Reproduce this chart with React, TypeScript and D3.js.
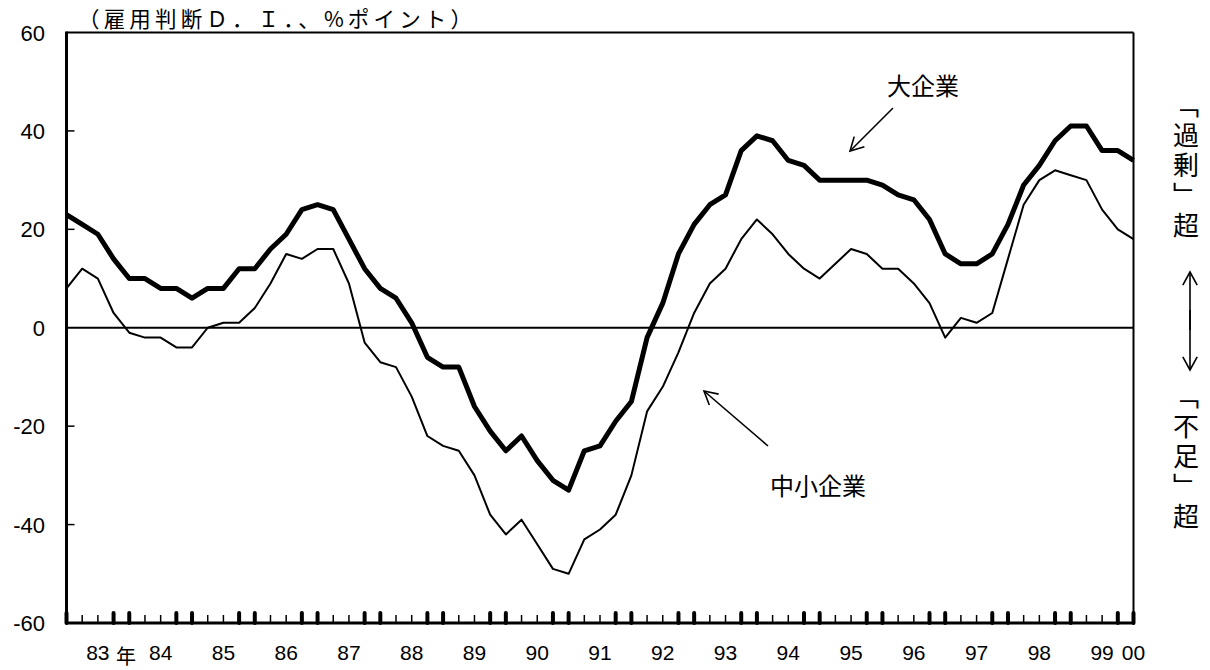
import React, { useRef, useEffect } from "react";
import * as d3 from "d3";

// quarterly, 1983 Q1 .. 2000 Q1
const years = ["83", "84", "85", "86", "87", "88", "89", "90", "91", "92", "93", "94", "95", "96", "97", "98", "99"];
const quarters = [
  ...years.flatMap((y) => ["Q1", "Q2", "Q3", "Q4"].map((q) => y + q)),
  "00Q1",
];

const largeFirms = [
  23, 21, 19, 14, 10, 10, 8, 8, 6, 8, 8, 12, 12, 16, 19, 24, 25, 24, 18, 12,
  8, 6, 1, -6, -8, -8, -16, -21, -25, -22, -27, -31, -33, -25, -24, -19, -15, -2, 5, 15,
  21, 25, 27, 36, 39, 38, 34, 33, 30, 30, 30, 30, 29, 27, 26, 22, 15, 13, 13, 15,
  21, 29, 33, 38, 41, 41, 36, 36, 34,
];

const smallFirms = [
  8, 12, 10, 3, -1, -2, -2, -4, -4, 0, 1, 1, 4, 9, 15, 14, 16, 16, 9, -3,
  -7, -8, -14, -22, -24, -25, -30, -38, -42, -39, -44, -49, -50, -43, -41, -38, -30, -17, -12, -5,
  3, 9, 12, 18, 22, 19, 15, 12, 10, 13, 16, 15, 12, 12, 9, 5, -2, 2, 1, 3,
  14, 25, 30, 32, 31, 30, 24, 20, 18,
];

const yTicks = [-60, -40, -20, 0, 20, 40, 60];
const yearLabels = [...years.map((y) => ({ q: y + "Q3", text: y })), { q: "00Q1", text: "00" }];

const title = "（雇用判断Ｄ．Ｉ．、%ポイント）";
const upperNote = "「過剰」超";
const lowerNote = "「不足」超";

const NUM_FONT = "'Liberation Sans', Arial, sans-serif";
const JP_FONT = "'Noto Sans CJK JP', sans-serif";

export default function App() {
  const chartRef = useRef<SVGSVGElement>(null);

  useEffect(() => {
    if (chartRef.current === null) return;
    const svg = d3.select(chartRef.current);
    svg.selectAll("*").remove();

    const left = 66.5, right = 1133.5, top = 32.5, bottom = 623;

    const x = d3.scalePoint<string>().domain(quarters).range([left, right]);
    const y = d3.scaleLinear().domain([-60, 60]).range([bottom, top]);

    const line = d3
      .line<number>()
      .x((_, i) => x(quarters[i]) as number)
      .y((d) => y(d));

    // frame
    svg.append("line").attr("x1", left).attr("x2", right).attr("y1", top).attr("y2", top)
      .attr("stroke", "#000").attr("stroke-width", 2);
    svg.append("line").attr("x1", right).attr("x2", right).attr("y1", top).attr("y2", bottom)
      .attr("stroke", "#000").attr("stroke-width", 2);
    svg.append("line").attr("x1", left).attr("x2", left).attr("y1", top - 1).attr("y2", bottom + 1)
      .attr("stroke", "#000").attr("stroke-width", 3);
    svg.append("line").attr("x1", left).attr("x2", right + 1).attr("y1", bottom).attr("y2", bottom)
      .attr("stroke", "#000").attr("stroke-width", 3);

    // zero line
    svg.append("line").attr("x1", left).attr("x2", right).attr("y1", y(0)).attr("y2", y(0))
      .attr("stroke", "#000").attr("stroke-width", 2);

    // y ticks + labels
    svg.selectAll(".ytick").data(yTicks.filter((d) => d !== 0 && d !== -60 && d !== 60)).enter()
      .append("line").attr("class", "ytick")
      .attr("x1", left).attr("x2", left + 8).attr("y1", (d) => y(d)).attr("y2", (d) => y(d))
      .attr("stroke", "#000").attr("stroke-width", 1.5);
    svg.selectAll(".ylabel").data(yTicks).enter()
      .append("text").attr("class", "ylabel")
      .attr("x", 45).attr("y", (d) => y(d) + 8)
      .attr("text-anchor", "end")
      .style("font-family", NUM_FONT).style("font-size", "22px")
      .text((d) => d);

    // x ticks: thick at Q4 / Q1, thin at Q2 / Q3
    quarters.forEach((q, i) => {
      const px = x(q) as number;
      if (i % 4 === 0 || i % 4 === 3) {
        svg.append("rect").attr("x", px - 2).attr("y", bottom - 12).attr("width", 4).attr("height", 14)
          .attr("rx", 2).attr("fill", "#000");
      } else {
        svg.append("line").attr("x1", px).attr("x2", px).attr("y1", bottom - 8).attr("y2", bottom)
          .attr("stroke", "#000").attr("stroke-width", 1.5);
      }
    });

    svg.selectAll(".xlabel").data(yearLabels).enter()
      .append("text").attr("class", "xlabel")
      .attr("x", (d) => x(d.q) as number).attr("y", 660)
      .attr("text-anchor", "middle")
      .style("font-family", NUM_FONT).style("font-size", "21px")
      .text((d) => d.text);
    svg.append("text")
      .attr("x", (x("83Q3") as number) + 28).attr("y", 664)
      .attr("text-anchor", "middle")
      .style("font-family", JP_FONT).style("font-size", "20px")
      .text("年");

    // series
    svg.append("path").datum(smallFirms).attr("d", line)
      .attr("fill", "none").attr("stroke", "#000").attr("stroke-width", 2).attr("stroke-linejoin", "round");
    svg.append("path").datum(largeFirms).attr("d", line)
      .attr("fill", "none").attr("stroke", "#000").attr("stroke-width", 5).attr("stroke-linejoin", "round");

    // title
    svg.append("text")
      .attr("x", 78).attr("y", 26.5)
      .attr("textLength", 394).attr("lengthAdjust", "spacing")
      .style("font-family", JP_FONT).style("font-size", "21.5px")
      .text(title);

    // annotations
    const arrow = (x1: number, y1: number, x2: number, y2: number) => {
      const a = Math.atan2(y1 - y2, x1 - x2);
      const len = 15, spread = 0.5;
      const g = svg.append("g").attr("stroke", "#000").attr("stroke-width", 1.6).attr("fill", "none");
      g.append("line").attr("x1", x1).attr("y1", y1).attr("x2", x2).attr("y2", y2);
      g.append("path").attr("d",
        `M${x2 + len * Math.cos(a + spread)},${y2 + len * Math.sin(a + spread)}L${x2},${y2}L${x2 + len * Math.cos(a - spread)},${y2 + len * Math.sin(a - spread)}`);
    };

    svg.append("text").attr("x", 923).attr("y", 84).attr("text-anchor", "middle")
      .attr("dominant-baseline", "central")
      .style("font-family", JP_FONT).style("font-size", "24px").text("大企業");
    arrow(893, 108, 850, 151);

    svg.append("text").attr("x", 818).attr("y", 484).attr("text-anchor", "middle")
      .attr("dominant-baseline", "central")
      .style("font-family", JP_FONT).style("font-size", "24px").text("中小企業");
    arrow(768, 446, 704, 391);

    // right side notes, vertical writing
    const vnote = (s: string, y0: number) =>
      svg.append("text").attr("x", 1186).attr("y", y0)
        .style("writing-mode", "vertical-rl")
        .style("letter-spacing", "4px")
        .style("font-family", JP_FONT).style("font-size", "26px")
        .text(s);
    vnote(upperNote, 92);
    vnote(lowerNote, 383);
    arrow(1190, 330, 1190, 272);
    arrow(1190, 310, 1190, 370);
  }, []);

  return (
    <div style={{ position: "absolute", left: 0, top: 0 }}>
      <svg ref={chartRef} width={1210} height={670} style={{ display: "block", background: "#fff" }}></svg>
    </div>
  );
}
